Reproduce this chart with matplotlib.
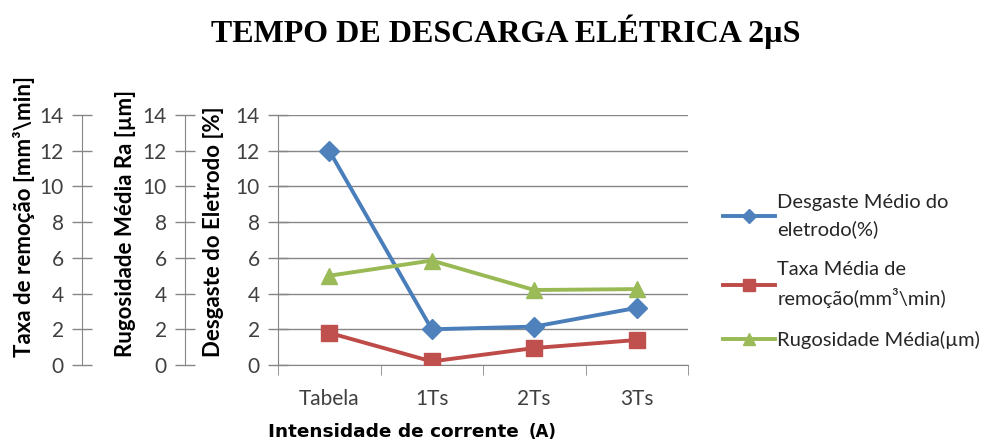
import numpy as np
import matplotlib.pyplot as plt

# tempo de descarga 2 us - desgaste, taxa de remocao e rugosidade
categorias = ['Tabela', '1Ts', '2Ts', '3Ts']
desgaste = [12.0, 2.0, 2.15, 3.2]       # %
taxa = [1.8, 0.2, 0.95, 1.4]             # mm3/min
rugosidade = [5.0, 5.85, 4.2, 4.25]      # um
yticks = [0, 2, 4, 6, 8, 10, 12, 14]

azul = '#4a7ebb'
vermelho = '#be4b48'
verde = '#98b954'
cinza = '#868686'
fonte = 'Lato'

plt.rcParams['font.family'] = [fonte, 'DejaVu Sans']

fig = plt.figure(figsize=(10, 4.43), dpi=100)
ax = fig.add_axes([0.278, 1 - 365 / 443, 0.41, 250 / 443])

x = np.arange(len(categorias))

def eixo_y(a, pos):
    a.set_ylim(0, 14)
    a.set_yticks(yticks)
    a.tick_params(axis='y', direction='inout', length=14, width=1, color=cinza,
                  labelsize=15, labelcolor='#404040', pad=6)
    a.yaxis.set_ticks_position('left')
    a.yaxis.set_label_position('left')
    for s in ['top', 'right', 'bottom']:
        a.spines[s].set_visible(False)
    a.spines['left'].set_color(cinza)
    a.spines['left'].set_position(('axes', pos))

eixo_y(ax, 0)
ax.spines['bottom'].set_visible(True)
ax.spines['bottom'].set_color(cinza)
ax.set_xlim(-0.5, len(categorias) - 0.5)
ax.set_xticks(x)
ax.set_xticklabels(categorias)
ax.set_xticks(np.arange(len(categorias) + 1) - 0.5, minor=True)
ax.tick_params(axis='x', which='major', length=0, labelsize=15,
               labelcolor='#404040', pad=17)
ax.tick_params(axis='x', which='minor', length=7, color=cinza, direction='out')
ax.grid(axis='y', color=cinza, linewidth=1)
ax.set_axisbelow(True)

ax_rug = ax.twinx()
eixo_y(ax_rug, -0.227)
ax_taxa = ax.twinx()
eixo_y(ax_taxa, -0.478)

l1, = ax.plot(x, desgaste, color=azul, lw=2.8, marker='D', ms=10,
              markerfacecolor='#4f81bd', markeredgecolor='#4f81bd', zorder=5)
l2, = ax_taxa.plot(x, taxa, color=vermelho, lw=2.8, marker='s', ms=11.5,
                   markerfacecolor='#c0504d', markeredgecolor='#c0504d', zorder=5)
l3, = ax_rug.plot(x, rugosidade, color=verde, lw=2.8, marker='^', ms=12,
                  markerfacecolor='#9bbb59', markeredgecolor='#9bbb59', zorder=5)
ax_taxa.set_xlim(ax.get_xlim())
ax_rug.set_xlim(ax.get_xlim())

# rotulos dos eixos y
fs_lab = 16
base = 1 - 357 / 443
fig.text(24 / 1000, base, 'Taxa de remoção [mm³\\min]', rotation=90,
         ha='center', va='bottom', fontsize=fs_lab, fontweight='bold')
fig.text(126 / 1000, base, 'Rugosidade Média Ra [µm]', rotation=90,
         ha='center', va='bottom', fontsize=fs_lab, fontweight='bold')
fig.text(214 / 1000, base, 'Desgaste do Eletrodo [%]', rotation=90,
         ha='center', va='bottom', fontsize=fs_lab, fontweight='bold')

fig.text(268 / 1000, 1 - 432 / 443, 'Intensidade de corrente', ha='left',
         va='center', fontsize=13.3, fontweight='bold', family='DejaVu Sans')
fig.text(529 / 1000, 1 - 432 / 443, '(A)', ha='left', va='center', fontsize=12,
         fontweight='bold', family='DejaVu Sans')

fig.text(0.506, 1 - 32 / 443, 'TEMPO DE DESCARGA ELÉTRICA 2µS', ha='center',
         va='center', fontsize=23, fontweight='bold', family='Liberation Serif')

leg = fig.legend([l1, l2, l3],
                 ['Desgaste Médio do\neletrodo(%)', 'Taxa Média de\nremoção(mm³\\min)',
                  'Rugosidade Média(µm)'],
                 loc='upper left', bbox_to_anchor=(0.723, 1 - 194 / 443), frameon=False,
                 fontsize=14.5, handlelength=2.6, handletextpad=0.1, labelspacing=1.15,
                 borderpad=0, borderaxespad=0, markerscale=0.7, labelcolor='#262626')
for t in leg.get_texts():
    t.set_linespacing(1.6)

fig.savefig('out.png', dpi=100, facecolor='white')
